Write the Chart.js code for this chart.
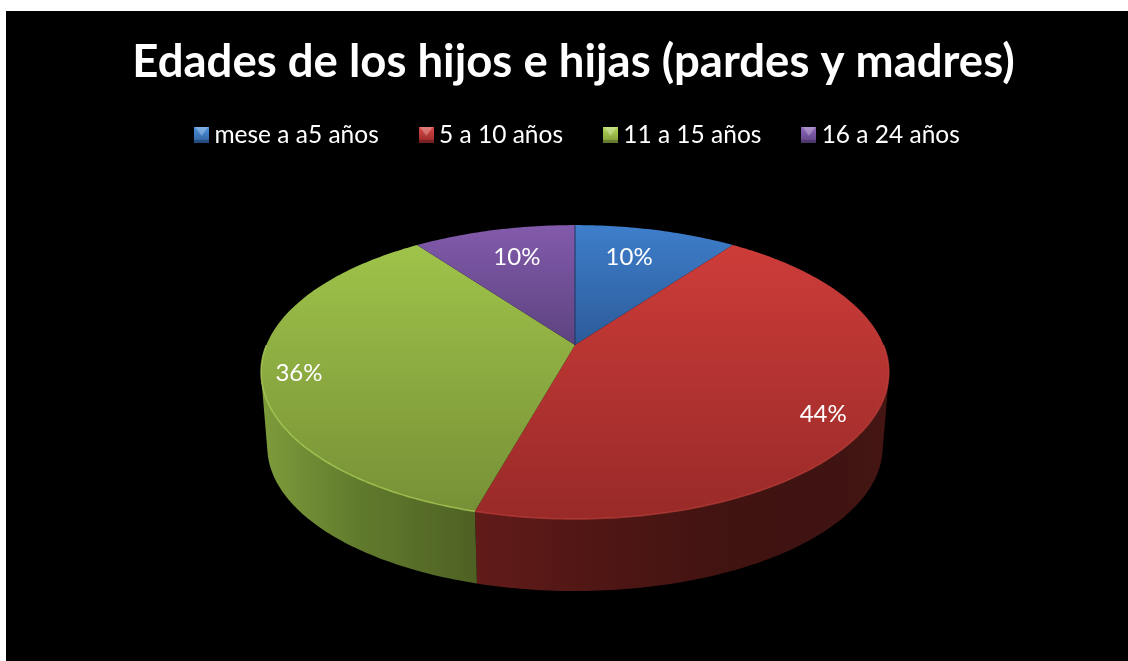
<!DOCTYPE html>
<html><head><meta charset="utf-8">
<style>html,body{margin:0;padding:0;background:#fff}#w{position:absolute;left:0;top:0;width:1128px;height:661px}</style>
<script src="https://cdn.jsdelivr.net/npm/chart.js@4"></script></head>
<body><div id="w"><canvas id="c" width="1128" height="661"></canvas></div>
<script>
const categories = ['mese a a5 años', '5 a 10 años', '11 a 15 años', '16 a 24 años'];
const shares = [10, 44.3, 35.7, 10];
const titleText = 'Edades de los hijos e hijas (pardes y madres)';

const topStops = [['#3e7ecb','#2c5b99'],['#cd3c39','#982a28'],['#9fc34a','#779036'],['#825aab','#5d4380']];
const topRange = [[225,345],[245,519],[245,511],[225,345]];
const rimColors = ['rgba(90,150,220,.5)','rgba(214,72,68,.55)','rgba(178,214,92,.75)','rgba(150,110,190,.5)'];
const wallStops = [
  [[0,'#1f3f6b'],[1,'#1f3f6b']],
  [[0,'#611b19'],[.25,'#521715'],[.6,'#411311'],[.85,'#3e1311'],[1,'#451613']],
  [[0,'#7e9c3b'],[.45,'#617b2d'],[1,'#4e6123']],
  [[0,'#3a2a55'],[1,'#3a2a55']]
];
const legendTint = [['#4f94de','#2f5f9e'],['#dc4a46','#96282a'],['#b4d85a','#7f9a38'],['#9068bc','#5f4585']];
const labelRadial = [.727,.862,.884,.727];
const labelShift = [-2.2,5.3,-2.3,1];

// perspective of the pie relative to the library's arc centre and radius
const R0 = 170, K = .1837, AX = 308.6/R0, BY = 142/R0, BASE = .98, DROP = 75.5;
const TITLE_SHIFT=-1.5, LEGEND_SHIFT=5.5, LEGEND_RISE=14;
function proj(a, th, r=1, base=false){
  const u = Math.sin(th)*r, v = Math.cos(th)*r, w = 1+K*v;
  const s = base ? BASE : 1;
  return [a.x + s*AX*a.outerRadius*u/w, a.y + (base?DROP:0) - s*BY*a.outerRadius*v/w];
}
const thetaOf = ang => ang + Math.PI/2;
function trace(ctx,a,t0,t1,base,first){
  const n = Math.max(8,Math.ceil(Math.abs(t1-t0)*60));
  for(let i=0;i<=n;i++){
    const p = proj(a,t0+(t1-t0)*i/n,1,base);
    if(i===0&&first) ctx.moveTo(p[0],p[1]); else ctx.lineTo(p[0],p[1]);
  }
}
const WALL_MIN=103*Math.PI/180, WALL_MAX=257*Math.PI/180;
const pie3d = {
  id:'pie3d',
  beforeDraw(chart){
    const ctx = chart.ctx;
    ctx.save();
    ctx.fillStyle='#000';
    ctx.fillRect(6,11,1122,650);
    ctx.restore();
    chart.titleBlock.left += TITLE_SHIFT; chart.titleBlock.right += TITLE_SHIFT;
    chart.legend.left += LEGEND_SHIFT; chart.legend.right += LEGEND_SHIFT;
    chart.legend.top -= LEGEND_RISE; chart.legend.bottom -= LEGEND_RISE;
  },
  beforeDatasetDraw(chart,args){
    const ctx = chart.ctx, arcs = chart.getDatasetMeta(args.index).data;
    ctx.save();
    arcs.forEach((a,i)=>{
      const t0=Math.max(thetaOf(a.startAngle),WALL_MIN), t1=Math.min(thetaOf(a.endAngle),WALL_MAX);
      if(t1<=t0) return;
      const isRed = i===1;
      const x0 = isRed ? proj(a,t1)[0] : a.x-AX*a.outerRadius*1.0173;
      const x1 = isRed ? a.x+AX*a.outerRadius*1.0173 : proj(a,t0)[0];
      const g=ctx.createLinearGradient(x0,0,x1,0);
      wallStops[i].forEach(s=>g.addColorStop(s[0],s[1]));
      ctx.fillStyle=g;
      ctx.beginPath();
      trace(ctx,a,t0,t1,false,true);
      trace(ctx,a,t1,t0,true,false);
      ctx.closePath();
      ctx.fill();
    });
    arcs.forEach((a,i)=>{
      const t0=thetaOf(a.startAngle), t1=thetaOf(a.endAngle);
      ctx.beginPath();
      ctx.moveTo(a.x,a.y);
      trace(ctx,a,t0,t1,false,false);
      ctx.closePath();
      const g=ctx.createLinearGradient(0,topRange[i][0],0,topRange[i][1]);
      g.addColorStop(0,topStops[i][0]); g.addColorStop(1,topStops[i][1]);
      ctx.fillStyle=g; ctx.fill();
    });
    // lit front rim
    arcs.forEach((a,i)=>{
      const t0=Math.max(thetaOf(a.startAngle),Math.PI*.5), t1=Math.min(thetaOf(a.endAngle),Math.PI*1.5);
      if(t1<=t0) return;
      ctx.beginPath(); trace(ctx,a,t0,t1,false,true);
      ctx.strokeStyle=rimColors[i]; ctx.lineWidth=1.5; ctx.stroke();
    });
    // seam between first and last slices
    const a=arcs[0];
    ctx.beginPath(); ctx.moveTo(a.x,a.y);
    const top=proj(a,0); ctx.lineTo(top[0],top[1]);
    ctx.strokeStyle='#1c3560'; ctx.lineWidth=1; ctx.stroke();
    // percent labels
    const total=shares.reduce((s,v)=>s+v,0);
    ctx.fillStyle='#fff'; ctx.font='24px Lato'; ctx.textAlign='center'; ctx.textBaseline='middle';
    arcs.forEach((arc,i)=>{
      const mid=(thetaOf(arc.startAngle)+thetaOf(arc.endAngle))/2+labelShift[i]*Math.PI/180;
      const p=proj(arc,mid,labelRadial[i]);
      ctx.fillText(Math.round(shares[i]/total*100)+'%',p[0],p[1]);
    });
    ctx.restore();
    return false;
  }
};

function legendIcon(i){
  const c=document.createElement('canvas'); c.width=15; c.height=16;
  const x=c.getContext('2d');
  const g=x.createLinearGradient(0,0,0,16);
  g.addColorStop(0,legendTint[i][0]); g.addColorStop(1,legendTint[i][1]);
  x.fillStyle=g; x.fillRect(0,0,15,16);
  x.fillStyle='rgba(255,255,255,.28)';
  x.beginPath(); x.moveTo(1,0); x.lineTo(14,0); x.lineTo(7.5,9); x.closePath(); x.fill();
  x.fillStyle='rgba(0,0,0,.22)';
  x.fillRect(0,13,15,3);
  return c;
}
new Chart(document.getElementById('c'),{
  type:'pie',
  data:{labels:categories,datasets:[{data:shares,backgroundColor:topStops.map(s=>s[0]),borderWidth:0,radius:R0}]},
  plugins:[pie3d],
  options:{
    responsive:false,animation:false,
    layout:{padding:{left:22,top:35,right:0,bottom:142}},
    plugins:{
      title:{display:true,text:titleText,color:'#fff',font:{family:'Lato',weight:'bold',size:45.5},padding:{top:0,bottom:0}},
      legend:{position:'top',labels:{color:'#fff',font:{family:'Lato',size:24.5},padding:47,usePointStyle:true,pointStyleWidth:1,boxHeight:15,
        generateLabels:ch=>categories.map((t,i)=>({text:t,fontColor:'#fff',pointStyle:legendIcon(i),datasetIndex:0,index:i,lineWidth:0,strokeStyle:'transparent',fillStyle:topStops[i][0]}))}},
      tooltip:{enabled:false}
    }
  }
});
</script></body></html>
